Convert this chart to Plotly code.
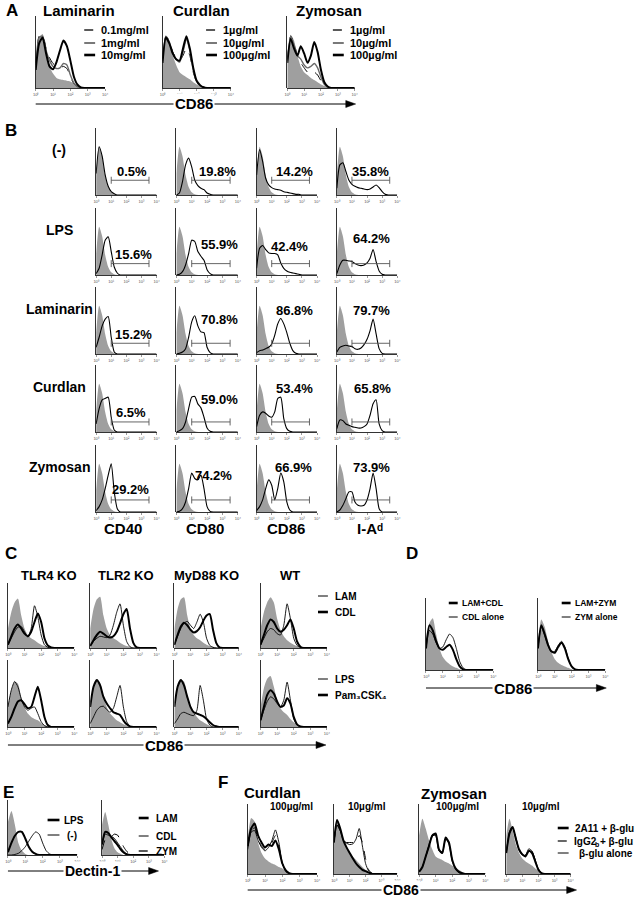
import plotly.graph_objects as go

W, H = 639, 899
FONT = "Liberation Sans, Arial, sans-serif"
GRAYC = "#9f9f9f"

# log10 bin positions (decades 10^0 .. 10^4)
X = [0.0, 0.2, 0.4, 0.6, 0.8, 1.0, 1.2, 1.4, 1.6, 1.8, 2.0,
     2.2, 2.4, 2.6, 2.8, 3.0, 3.2, 3.4, 3.6, 3.8, 4.0]
TICK_VALS = [0, 1, 2, 3, 4]
TICK_TEXT = ["10\u2070", "10\u00b9", "10\u00b2", "10\u00b3", "10\u2074"]

# ---------------- Panel A : CD86 dose response ----------------
A_TITLES = ["Laminarin", "Curdlan", "Zymosan"]
A_DOSES = [["0.1mg/ml", "1mg/ml", "10mg/ml"],
           ["1\u00b5g/ml", "10\u00b5g/ml", "100\u00b5g/ml"],
           ["1\u00b5g/ml", "10\u00b5g/ml", "100\u00b5g/ml"]]
A_LAM_GRAY = [30, 70, 75, 48, 30, 20, 14, 12, 11, 10, 9, 6, 3, 1, 0]
A_LAM_LOW = [35, 72, 74, 55, 42, 34, 30, 28, 30, 27, 16, 6, 2, 0]
A_LAM_MID = [32, 70, 72, 52, 38, 30, 27, 28, 34, 32, 18, 7, 2, 0]
A_LAM_HIGH = [25, 62, 70, 48, 30, 26, 36, 52, 66, 58, 38, 16, 5, 1, 0]
A_CDL_GRAY = [40, 72, 65, 45, 32, 22, 18, 15, 12, 8, 5, 3, 1, 0]
A_CDL_LOW = [40, 72, 65, 50, 42, 38, 45, 55, 45, 22, 8, 3, 1, 0]
A_CDL_MID = [38, 72, 64, 48, 40, 36, 50, 68, 52, 25, 9, 3, 1, 0]
A_CDL_HIGH = [35, 70, 62, 48, 40, 38, 55, 72, 55, 28, 10, 4, 1, 0]
A_ZYM_GRAY = [40, 74, 66, 45, 30, 22, 18, 14, 11, 8, 5, 3, 1, 0]
A_ZYM_LOW = [40, 72, 62, 45, 35, 28, 22, 20, 22, 18, 10, 4, 1, 0]
A_ZYM_MID = [38, 72, 60, 45, 40, 32, 28, 30, 34, 28, 15, 5, 1, 0]
A_ZYM_HIGH = [35, 68, 55, 45, 58, 48, 35, 45, 64, 50, 25, 8, 2, 0]

# ---------------- Panel B : surface markers ----------------
B_ROWS = ["(-)", "LPS", "Laminarin", "Curdlan", "Zymosan"]
B_COLS = ["CD40", "CD80", "CD86", "I-A\u1d48"]
B_GRAY = [32, 72, 58, 30, 12, 4, 1, 0]
B_NONE_CD40 = [32, 72, 58, 30, 13, 5, 2, 0]
B_NONE_CD80 = [0, 3, 20, 45, 55, 42, 22, 14, 10, 8, 3, 1, 0]
B_NONE_CD86 = [30, 68, 50, 25, 15, 11, 9, 8, 7, 5, 4, 3, 2, 1, 1, 0]
B_NONE_IAD = [10, 45, 48, 35, 22, 16, 13, 11, 10, 9, 8, 9, 12, 15, 11, 5, 1, 0]
B_LPS_CD40 = [2, 10, 30, 52, 57, 35, 12, 3, 0]
B_LPS_CD80 = [0, 1, 5, 15, 32, 52, 50, 35, 28, 22, 8, 2, 0]
B_LPS_CD86 = [10, 40, 44, 38, 33, 32, 32, 30, 18, 10, 6, 4, 3, 2, 1, 0]
B_LPS_IAD = [2, 15, 22, 22, 21, 20, 17, 15, 14, 15, 18, 25, 38, 20, 6, 1, 0]
B_LAM_CD40 = [10, 25, 42, 52, 56, 25, 3, 0]
B_LAM_CD80 = [0, 1, 3, 8, 25, 48, 57, 42, 33, 32, 10, 2, 0]
B_LAM_CD86 = [2, 5, 6, 8, 10, 15, 28, 45, 53, 45, 32, 16, 5, 1, 0]
B_LAM_IAD = [3, 10, 12, 13, 12, 11, 8, 7, 9, 14, 22, 35, 52, 30, 8, 1, 0]
B_CDL_CD40 = [12, 35, 48, 50, 52, 22, 3, 0]
B_CDL_CD80 = [0, 2, 5, 15, 35, 52, 53, 42, 36, 22, 6, 1, 0]
B_CDL_CD86 = [8, 25, 30, 28, 24, 22, 30, 50, 52, 20, 5, 1, 0]
B_CDL_IAD = [5, 18, 17, 12, 10, 8, 7, 6, 6, 8, 12, 25, 42, 48, 12, 2, 0]
B_ZYM_CD40 = [2, 8, 18, 35, 55, 72, 30, 5, 0]
B_ZYM_CD80 = [0, 1, 5, 15, 35, 58, 50, 48, 55, 35, 8, 1, 0]
B_ZYM_CD86 = [2, 8, 18, 35, 48, 40, 18, 35, 58, 45, 15, 3, 0]
B_ZYM_IAD = [0, 3, 10, 20, 30, 30, 15, 10, 9, 10, 18, 35, 58, 35, 5, 0]
B_CURVES = [[B_NONE_CD40, B_NONE_CD80, B_NONE_CD86, B_NONE_IAD],
            [B_LPS_CD40, B_LPS_CD80, B_LPS_CD86, B_LPS_IAD],
            [B_LAM_CD40, B_LAM_CD80, B_LAM_CD86, B_LAM_IAD],
            [B_CDL_CD40, B_CDL_CD80, B_CDL_CD86, B_CDL_IAD],
            [B_ZYM_CD40, B_ZYM_CD80, B_ZYM_CD86, B_ZYM_IAD]]
B_PCT = [["0.5%", "19.8%", "14.2%", "35.8%"],
         ["15.6%", "55.9%", "42.4%", "64.2%"],
         ["15.2%", "70.8%", "86.8%", "79.7%"],
         ["6.5%", "59.0%", "53.4%", "65.8%"],
         ["29.2%", "74.2%", "66.9%", "73.9%"]]
B_GATE = [1.0, 3.5]

# ---------------- Panel C : knockouts ----------------
C_TITLES = ["TLR4 KO", "TLR2 KO", "MyD88 KO", "WT"]
C_R1_GRAY = [[30, 55, 70, 76, 50, 30, 20, 15, 12, 8, 5, 3, 2, 1, 0],
             [30, 60, 75, 79, 50, 30, 20, 15, 12, 8, 5, 3, 2, 1, 0],
             [30, 60, 75, 78, 50, 30, 20, 15, 12, 8, 5, 3, 2, 1, 0],
             [30, 55, 70, 78, 70, 45, 28, 18, 12, 8, 5, 3, 2, 1, 0]]
C_LAM = [[5, 15, 25, 32, 33, 25, 17, 30, 65, 48, 20, 5, 1, 0],
         [3, 10, 15, 18, 17, 16, 20, 35, 55, 68, 35, 10, 2, 0],
         [5, 18, 30, 38, 41, 35, 30, 40, 52, 40, 15, 4, 1, 0],
         [5, 15, 25, 30, 28, 22, 20, 35, 68, 45, 15, 4, 1, 0]]
C_CDL = [[5, 18, 30, 36, 30, 22, 18, 25, 40, 53, 40, 15, 4, 1, 0],
         [3, 12, 20, 25, 22, 18, 16, 18, 25, 38, 52, 60, 30, 8, 1, 0],
         [5, 20, 33, 39, 35, 28, 24, 26, 32, 42, 50, 52, 28, 8, 1, 0],
         [5, 20, 35, 44, 40, 30, 25, 28, 35, 44, 30, 10, 2, 0]]
C_R2_GRAY = [[30, 55, 68, 65, 45, 30, 20, 15, 12, 10, 6, 3, 1, 0],
             [30, 58, 70, 66, 45, 30, 20, 15, 10, 7, 4, 2, 1, 0],
             [30, 58, 70, 68, 48, 32, 22, 15, 10, 7, 4, 2, 1, 0],
             [30, 58, 72, 76, 60, 40, 28, 22, 18, 12, 7, 3, 1, 0]]
C_LPS = [[30, 55, 68, 60, 42, 30, 25, 28, 30, 20, 8, 2, 0],
         [5, 15, 25, 30, 31, 26, 22, 28, 45, 62, 30, 8, 1, 0],
         [5, 12, 20, 22, 20, 18, 17, 25, 62, 40, 12, 3, 0],
         [10, 25, 38, 45, 42, 35, 30, 40, 67, 40, 12, 3, 0]]
C_PAM = [[5, 15, 28, 38, 40, 34, 28, 30, 45, 60, 40, 15, 3, 0],
         [30, 60, 70, 62, 45, 35, 28, 22, 20, 18, 10, 4, 1, 0],
         [30, 60, 70, 62, 45, 30, 22, 20, 18, 16, 12, 7, 3, 1, 0],
         [10, 30, 48, 55, 50, 38, 30, 32, 43, 35, 15, 4, 1, 0]]
C_LEG = ["LAM", "CDL", "LPS", "Pam\u2083CSK\u2084"]

# ---------------- Panel D : combinations ----------------
D_LEG = [["LAM+CDL", "CDL alone"], ["LAM+ZYM", "ZYM alone"]]
D_GRAY = [[40, 65, 72, 50, 30, 18, 12, 8, 5, 3, 1, 0],
          [40, 70, 60, 40, 25, 15, 10, 7, 5, 3, 1, 0]]
D_COMBO = [[30, 62, 55, 40, 30, 28, 32, 35, 28, 15, 5, 1, 0],
           [30, 62, 50, 35, 26, 24, 32, 38, 30, 15, 5, 1, 0]]
D_ALONE = [[30, 55, 50, 38, 30, 32, 42, 50, 45, 30, 12, 3, 0],
           [30, 60, 48, 34, 25, 26, 34, 40, 32, 16, 5, 1, 0]]

# ---------------- Panel E : Dectin-1 ----------------
E1_GRAY = [60, 80, 55, 22, 8, 2, 0]
E1_LPS = [5, 22, 35, 42, 42, 30, 15, 6, 2, 0]
E1_NONE = [0, 0, 1, 3, 8, 15, 25, 35, 42, 38, 22, 8, 2, 0]
E2_GRAY = [55, 78, 55, 28, 12, 5, 2, 0]
E2_LAM = [20, 42, 40, 32, 25, 18, 10, 4, 1, 0]
E2_CDL = [18, 38, 36, 34, 30, 22, 14, 6, 2, 0]
E2_ZYM = [10, 28, 32, 34, 38, 36, 25, 14, 6, 2, 0]

# ---------------- Panel F : anti-Dectin-1 blocking ----------------
F_CONC = ["100\u00b5g/ml", "10\u00b5g/ml", "100\u00b5g/ml", "10\u00b5g/ml"]
F_GRAY = [[50, 80, 75, 45, 30, 22, 18, 15, 13, 10, 8, 5, 3, 1, 0],
          [50, 79, 65, 48, 38, 30, 25, 20, 15, 10, 6, 3, 1, 0],
          [55, 79, 65, 48, 35, 25, 22, 20, 17, 15, 12, 9, 6, 3, 1, 0],
          [55, 79, 62, 42, 30, 22, 18, 15, 12, 8, 5, 3, 1, 0]]
F_2A11 = [[40, 65, 72, 55, 45, 38, 42, 40, 48, 35, 15, 5, 1, 0],
          [45, 77, 65, 48, 38, 30, 22, 15, 10, 6, 4, 2, 0],
          [3, 10, 25, 40, 55, 58, 35, 30, 52, 45, 20, 8, 3, 1, 0],
          [30, 58, 67, 50, 35, 28, 25, 33, 30, 18, 6, 1, 0]]
F_IGG = [[40, 62, 66, 50, 40, 35, 40, 45, 55, 40, 15, 5, 1, 0],
         [45, 70, 62, 48, 45, 45, 45, 45, 55, 45, 22, 6, 1, 0],
         [3, 10, 24, 40, 54, 56, 34, 30, 50, 44, 20, 8, 3, 1, 0],
         [30, 60, 68, 52, 36, 28, 26, 35, 32, 20, 7, 1, 0]]
F_ALONE = [[35, 60, 62, 48, 38, 33, 38, 48, 63, 45, 15, 4, 1, 0],
           [45, 70, 62, 48, 44, 42, 43, 50, 65, 40, 15, 4, 1, 0],
           [3, 10, 25, 42, 56, 55, 33, 30, 51, 43, 18, 7, 2, 1, 0],
           [30, 58, 66, 50, 34, 27, 27, 36, 33, 20, 7, 1, 0]]


def pad(v):
    return list(v) + [0] * (len(X) - len(v))


fig = go.Figure()
layout = dict(width=W, height=H, margin=dict(l=0, r=0, t=0, b=0),
              paper_bgcolor="white", plot_bgcolor="white", showlegend=False,
              font=dict(family=FONT, color="black"))
shapes, annots = [], []
count = [0]


def panel(x0, x1, y0, y1):
    count[0] += 1
    n = count[0]
    s = "" if n == 1 else str(n)
    layout["xaxis" + s] = dict(domain=[x0 / W, x1 / W], range=[0, 4], anchor="y" + s,
                               showline=True, linecolor="black", linewidth=0.8,
                               ticks="outside", ticklen=2, tickwidth=0.5, tickcolor="#333",
                               tickvals=TICK_VALS, ticktext=TICK_TEXT,
                               tickfont=dict(size=4, color="#555", family=FONT),
                               showgrid=False, zeroline=False, fixedrange=True)
    layout["yaxis" + s] = dict(domain=[1 - y1 / H, 1 - y0 / H], range=[0, 100], anchor="x" + s,
                               showline=True, linecolor="black", linewidth=0.8,
                               showticklabels=False, ticks="", showgrid=False,
                               zeroline=False, fixedrange=True)
    return "x" + s, "y" + s


def gray(ax, v):
    fig.add_trace(go.Scatter(x=X, y=pad(v), xaxis=ax[0], yaxis=ax[1], mode="lines",
                             line=dict(width=0, color=GRAYC, shape="spline", smoothing=0.6),
                             fill="tozeroy", fillcolor=GRAYC, hoverinfo="skip"))


def curve(ax, v, width=1.0, dash="solid", color="black"):
    fig.add_trace(go.Scatter(x=X, y=pad(v), xaxis=ax[0], yaxis=ax[1], mode="lines",
                             line=dict(width=width, color=color, dash=dash,
                                       shape="spline", smoothing=0.6),
                             hoverinfo="skip"))


def txt(x, y, s, size, anchor="center", bg=None):
    a = dict(x=x / W, y=1 - y / H, xref="paper", yref="paper", text=s, showarrow=False,
             xanchor=anchor, yanchor="middle", borderpad=0,
             font=dict(size=size, family=FONT, color="black"))
    if bg:
        a["bgcolor"] = bg
        a["borderpad"] = 1
    annots.append(a)


def seg(x0, x1, y, width=1.0, dash="solid", color="black"):
    shapes.append(dict(type="line", xref="paper", yref="paper", x0=x0 / W, x1=x1 / W,
                       y0=1 - y / H, y1=1 - y / H,
                       line=dict(color=color, width=width, dash=dash)))


def arrow(x0, x1, y, label, lx, size=14):
    seg(x0, x1 - 6, y, 1.0)
    tip, back, half = x1 / W, (x1 - 10) / W, 3.5 / H
    yy = 1 - y / H
    shapes.append(dict(type="path", xref="paper", yref="paper",
                       path=f"M {tip},{yy} L {back},{yy + half} L {back},{yy - half} Z",
                       fillcolor="black", line=dict(color="black", width=0.5)))
    txt(lx, y, "<b>" + label + "</b>", size, bg="white")


# ================= A =================
txt(9, 10, "<b>A</b>", 17)
A_X = [(33, 103), (161, 230), (287, 355)]
A_TX = [77, 200, 329]
A_LEGX = [82, 205, 333]
A_SETS = [(A_LAM_GRAY, A_LAM_LOW, A_LAM_MID, A_LAM_HIGH),
          (A_CDL_GRAY, A_CDL_LOW, A_CDL_MID, A_CDL_HIGH),
          (A_ZYM_GRAY, A_ZYM_LOW, A_ZYM_MID, A_ZYM_HIGH)]
for i in range(3):
    ax = panel(A_X[i][0], A_X[i][1], 16, 88)
    g, lo, mi, hi = A_SETS[i]
    gray(ax, g)
    curve(ax, lo, 1.0, "dash")
    curve(ax, mi, 1.4, "solid", "#6a6a6a")
    curve(ax, hi, 2.0)
    txt(A_TX[i], 10, "<b>" + A_TITLES[i] + "</b>", 15)
    lx = A_LEGX[i]
    for k, (ly, w, d, c) in enumerate([(30, 1.3, "dash", "black"), (43, 1.8, "solid", "#6a6a6a"),
                                        (55, 2.6, "solid", "black")]):
        seg(lx, lx + 11, ly, w, d, c)
        txt(lx + 16, ly, "<b>" + A_DOSES[i][k] + "</b>", 11, "left")
arrow(33, 356, 104, "CD86", 193, 15)

# ================= B =================
txt(8, 130, "<b>B</b>", 17)
B_X = [(94, 155), (175, 237), (256, 317), (337, 398)]
B_TOP = [128, 208, 287, 365, 445]
B_GATE_Y = [22, 17, 16, 15, 18]
B_LBL_Y = [[35, 35, 35, 35], [31, 46, 42, 55], [29, 52, 65, 65], [29, 49, 65, 65], [33, 54, 67, 67]]
B_LBL_X = [[2.35, 2.65, 2.5, 2.25], [2.5, 2.8, 2.2, 2.3], [2.5, 2.8, 2.5, 2.3],
           [2.3, 2.8, 2.5, 2.35], [2.3, 2.45, 2.45, 2.3]]
for r in range(5):
    top = B_TOP[r]
    txt(57, top + 22, "<b>" + B_ROWS[r] + "</b>", 14)
    for c in range(4):
        ax = panel(B_X[c][0], B_X[c][1], top, top + 67)
        gray(ax, B_GRAY)
        curve(ax, B_CURVES[r][c], 1.1)
        fig.add_trace(go.Scatter(x=B_GATE, y=[B_GATE_Y[r]] * 2, xaxis=ax[0], yaxis=ax[1],
                                 mode="lines+markers", line=dict(color="#555", width=0.9),
                                 marker=dict(symbol="line-ns", size=5,
                                             line=dict(color="#555", width=0.9)),
                                 hoverinfo="skip"))
        annots.append(dict(x=B_LBL_X[r][c], y=B_LBL_Y[r][c], xref=ax[0], yref=ax[1],
                           text="<b>" + B_PCT[r][c] + "</b>", showarrow=False,
                           xanchor="center", yanchor="middle", borderpad=0,
                           font=dict(size=13, family=FONT, color="black")))
B_CX = [121, 204, 286, 370]
for c in range(4):
    txt(B_CX[c], 528, "<b>" + B_COLS[c] + "</b>", 15)

# ================= C =================
txt(8, 553, "<b>C</b>", 17)
C_X = [(5, 72), (88, 155), (173, 238), (260, 327)]
C_TX = [46, 124, 205, 290]
for c in range(4):
    txt(C_TX[c], 575, "<b>" + C_TITLES[c] + "</b>", 13)
    ax = panel(C_X[c][0], C_X[c][1], 583, 648)
    gray(ax, C_R1_GRAY[c])
    curve(ax, C_LAM[c], 0.9)
    curve(ax, C_CDL[c], 2.0)
    ax = panel(C_X[c][0], C_X[c][1], 660, 727)
    gray(ax, C_R2_GRAY[c])
    curve(ax, C_LPS[c], 0.9)
    curve(ax, C_PAM[c], 2.0)
for ly, w, s in zip([596, 612, 679, 695], [1.0, 2.6, 1.0, 2.6], C_LEG):
    seg(318, 328, ly, w)
    txt(334, ly, "<b>" + s + "</b>", 10, "left")
arrow(5, 326, 745, "CD86", 163, 15)

# ================= D =================
txt(413, 553, "<b>D</b>", 17)
D_X = [(427, 495), (540, 608)]
D_LX = [450, 564]
for i in range(2):
    ax = panel(D_X[i][0], D_X[i][1], 598, 670)
    gray(ax, D_GRAY[i])
    curve(ax, D_ALONE[i], 0.9)
    curve(ax, D_COMBO[i], 2.0)
    seg(D_LX[i], D_LX[i] + 9, 603, 2.6)
    txt(D_LX[i] + 12, 603, "<b>" + D_LEG[i][0] + "</b>", 8.5, "left")
    seg(D_LX[i], D_LX[i] + 9, 617, 1.0)
    txt(D_LX[i] + 12, 617, "<b>" + D_LEG[i][1] + "</b>", 8.5, "left")
arrow(427, 609, 688, "CD86", 515, 15)

# ================= E =================
txt(6, 792, "<b>E</b>", 17)
ax = panel(5, 75, 800, 855)
gray(ax, E1_GRAY)
curve(ax, E1_NONE, 0.9)
curve(ax, E1_LPS, 2.0)
seg(45, 57, 820, 2.6)
txt(61, 820, "<b>LPS</b>", 10, "left")
seg(45, 57, 835, 1.0)
txt(64, 835, "<b>(-)</b>", 10, "left")
ax = panel(100, 163, 800, 855)
gray(ax, E2_GRAY)
curve(ax, E2_ZYM, 1.0, "dash")
curve(ax, E2_CDL, 0.9)
curve(ax, E2_LAM, 2.0)
for ly, w, d, s in [(818, 2.6, "solid", "LAM"), (836, 1.0, "solid", "CDL"), (851, 1.3, "dash", "ZYM")]:
    seg(137, 147, ly, w, d)
    txt(153, ly, "<b>" + s + "</b>", 10, "left")
arrow(5, 157, 871, "Dectin-1", 90, 14)

# ================= F =================
txt(222, 782, "<b>F</b>", 17)
txt(272, 792, "<b>Curdlan</b>", 15)
txt(455, 793, "<b>Zymosan</b>", 15)
F_X = [(247, 317), (334, 398), (420, 487), (508, 573)]
F_CX = [291, 367, 459, 543]
for i in range(4):
    ax = panel(F_X[i][0], F_X[i][1], 804, 874)
    gray(ax, F_GRAY[i])
    curve(ax, F_ALONE[i], 0.9)
    curve(ax, F_IGG[i], 1.0, "dash")
    curve(ax, F_2A11[i], 2.0)
    txt(F_CX[i], 806, "<b>" + F_CONC[i] + "</b>", 10)
seg(560, 571, 828, 2.6)
txt(576, 828, "<b>2A11 + \u03b2-glu</b>", 10, "left")
seg(560, 571, 841, 1.2, "dash")
txt(575, 841, "<b>IgG2</b>", 10, "left")
txt(597, 844, "<b>b</b>", 7, "left")
txt(602, 841, "<b>+ \u03b2-glu</b>", 10, "left")
seg(560, 571, 853, 1.0)
txt(580, 853, "<b>\u03b2-glu alone</b>", 10, "left")
arrow(247, 579, 890, "CD86", 402, 14)

layout["shapes"] = shapes
layout["annotations"] = annots
fig.update_layout(**layout)
fig.write_html("out.html", config={"displayModeBar": False, "staticPlot": True},
               post_script="document.body.style.margin='0';document.body.style.overflow='hidden';")
